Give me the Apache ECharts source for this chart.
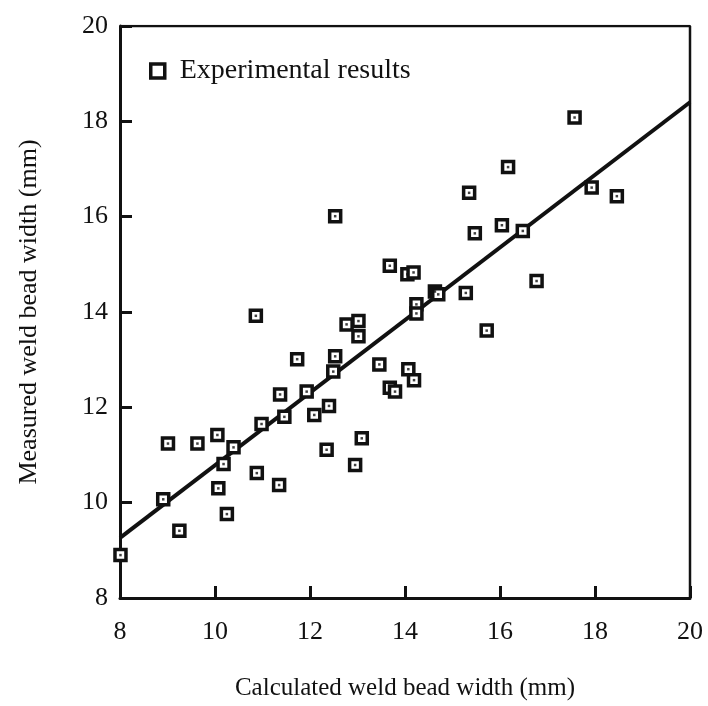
<!DOCTYPE html>
<html>
<head>
<meta charset="utf-8">
<script src="https://cdn.jsdelivr.net/npm/echarts@6/dist/echarts.min.js"></script>
<style>
  html, body { margin: 0; padding: 0; background: #fff; }
  #chart { width: 708px; height: 706px; }
</style>
</head>
<body>
<div id="chart"></div>
<script>
// Calculated vs measured weld bead width (mm)
const calculated = [
  8.01, 8.91, 9.25, 9.01, 9.63, 10.05, 10.39, 10.18, 10.07, 10.25,
  10.86, 10.88, 10.98, 11.35, 11.37, 11.46, 11.73, 11.93, 12.09, 12.40,
  12.35, 12.53, 12.49, 12.77, 13.02, 13.02, 13.46, 13.09, 12.95, 13.68,
  13.79, 12.53, 13.68, 17.57, 16.17, 15.35, 17.93, 18.46, 15.47, 16.04,
  16.48, 14.05, 14.18, 14.63, 14.70, 15.28, 16.77, 14.24, 14.24, 15.72,
  14.07, 14.19
];
const measured = [
  8.90, 10.07, 9.41, 11.24, 11.24, 11.42, 11.16, 10.81, 10.30, 9.76,
  13.92, 10.62, 11.65, 10.37, 12.27, 11.80, 13.01, 12.33, 11.84, 12.03,
  11.11, 13.07, 12.75, 13.74, 13.81, 13.49, 12.90, 11.35, 10.79, 12.41,
  12.33, 16.01, 14.97, 18.08, 17.04, 16.50, 16.61, 16.43, 15.65, 15.82,
  15.70, 14.79, 14.83, 14.43, 14.37, 14.40, 14.65, 14.16, 13.97, 13.61,
  12.80, 12.57
];
// Regression line end points
const fitX = [8, 20];
const fitY = [9.26, 18.40];
const xTicks = [8, 20, 2];
const yTicks = [8, 20, 2];

const points = calculated.map((c, i) => [c, measured[i]]);
const fitLine = fitX.map((x, i) => [x, fitY[i]]);

const font = '"Liberation Serif", "Times New Roman", serif';
const chart = echarts.init(document.getElementById('chart'), null, { renderer: 'canvas' });

chart.setOption({
  animation: false,
  backgroundColor: '#fff',
  grid: { left: 120, top: 26, width: 570, height: 572, show: false },
  legend: {
    show: true,
    left: 144,
    top: 52,
    itemWidth: 14,
    itemHeight: 14,
    itemGap: 10,
    textStyle: { fontFamily: font, fontSize: 28, color: '#111', padding: [0, 0, 0, 10] },
    data: [{ name: 'Experimental results', icon: 'rect',
      itemStyle: { color: '#fff', borderColor: '#111', borderWidth: 3.5 } }]
  },
  xAxis: {
    type: 'value', min: xTicks[0], max: xTicks[1], interval: xTicks[2],
    name: 'Calculated weld bead width (mm)',
    nameLocation: 'middle', nameGap: 78,
    nameTextStyle: { fontFamily: font, fontSize: 25, color: '#111' },
    axisLine: { lineStyle: { color: '#111', width: 3 } },
    axisTick: { inside: true, length: 12, lineStyle: { color: '#111', width: 3 } },
    axisLabel: { fontFamily: font, fontSize: 26, color: '#111', margin: 21 },
    splitLine: { show: false }
  },
  yAxis: {
    type: 'value', min: yTicks[0], max: yTicks[1], interval: yTicks[2],
    name: 'Measured weld bead width (mm)',
    nameLocation: 'middle', nameGap: 78, nameRotate: 90,
    nameTextStyle: { fontFamily: font, fontSize: 26, color: '#111' },
    axisLine: { lineStyle: { color: '#111', width: 3 } },
    axisTick: { inside: true, length: 12, lineStyle: { color: '#111', width: 3 } },
    axisLabel: { fontFamily: font, fontSize: 26, color: '#111', margin: 12 },
    splitLine: { show: false }
  },
  series: [
    {
      // top and right frame edges
      type: 'line', silent: true, symbol: 'none',
      data: [[xTicks[0], yTicks[1]], [xTicks[1], yTicks[1]], [xTicks[1], yTicks[0]]],
      lineStyle: { color: '#111', width: 2.5 }
    },
    {
      type: 'line', silent: true, symbol: 'none',
      data: fitLine,
      lineStyle: { color: '#111', width: 4 },
      z: 3
    },
    {
      name: 'Experimental results',
      type: 'scatter',
      data: points,
      symbol: 'rect',
      symbolSize: 11,
      itemStyle: { color: '#fff', borderColor: '#111', borderWidth: 3.5, opacity: 1 },
      z: 4
    },
    {
      // centre dot of each marker
      type: 'scatter', silent: true,
      data: points,
      symbol: 'rect',
      symbolSize: 2.5,
      itemStyle: { color: '#111' },
      z: 5
    }
  ]
});
</script>
</body>
</html>
